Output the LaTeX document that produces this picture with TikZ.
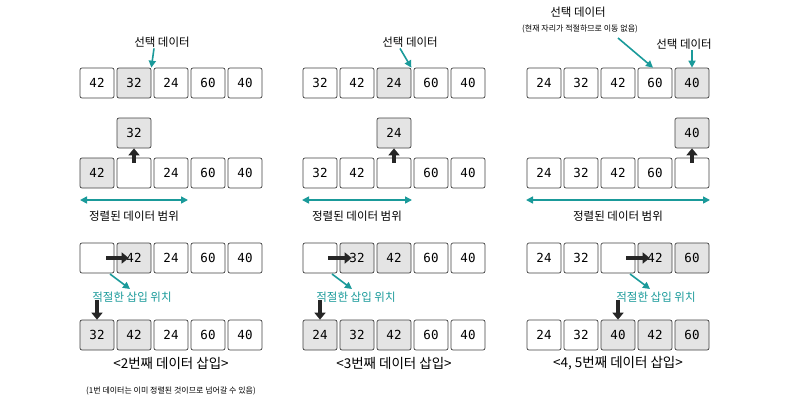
\documentclass[tikz,border=0pt]{standalone}
\usepackage{fontspec}
\setmainfont{Noto Sans CJK KR}
\newfontfamily\nummono{DejaVu Sans Mono}
\usetikzlibrary{arrows.meta}
\definecolor{tealc}{HTML}{1A9A9A}
\definecolor{grayf}{HTML}{E4E4E4}
\tikzset{
 cell/.style={draw=black!75,line width=0.7pt,rounded corners=2pt,minimum width=34pt,minimum height=30pt,inner sep=0pt,font=\nummono\fontsize{12.5}{12}\selectfont},
 sel/.style={cell,fill=grayf},
 lbl/.style={font=\fontsize{11.5}{13}\selectfont,inner sep=1pt},
 captxt/.style={font=\fontsize{13.5}{15}\selectfont,inner sep=1pt},
 small/.style={font=\fontsize{8}{9}\selectfont,inner sep=1pt},
 tlbl/.style={lbl,text=tealc},
 tarr/.style={draw=tealc,line width=1.6pt,-{Triangle[length=7pt,width=7pt]}},
 darr/.style={draw=tealc,line width=1.6pt,{Triangle[length=7pt,width=7pt]}-{Triangle[length=7pt,width=7pt]}},
 barr/.style={draw=black!85,line width=4pt,-{Triangle[length=7pt,width=11pt]}},
}
\newcommand{\rowcells}[4]{%
 \foreach \v/\s [count=\i] in {#4}{%
  \node[\s] (#1\i) at ({#2+(\i-1)*37},#3) {\v};}}
\begin{document}
\begin{tikzpicture}[x=1pt,y=-1pt]
\useasboundingbox (0,0) rectangle (800,410);
% ---------- panel 1
\rowcells{a}{97}{83}{42/cell,32/sel,24/cell,60/cell,40/cell}
\node[lbl] (al) at (162,42) {선택 데이터};
\draw[tarr] ([xshift=-8pt]al.south) -- (a2.north east);
\rowcells{b}{97}{173}{42/sel,/cell,24/cell,60/cell,40/cell}
\node[sel] (bf) at (134,133) {32};
\draw[barr] ([yshift=-5pt]b2.north) -- (bf.south);
\coordinate (bl1) at (80,200); \coordinate (bl2) at (188,200);
\draw[darr] (bl1) -- (bl2);
\node[lbl] (blt) at (134,216) {정렬된 데이터 범위};
\rowcells{c}{97}{258}{/cell,42/sel,24/cell,60/cell,40/cell}
\coordinate (cs) at (106,258);
\draw[barr] (cs) -- ([xshift=12pt]c2.west);
\node[tlbl] (ct) at (132,297) {적절한 삽입 위치};
\coordinate (cts) at (110,274);
\draw[tarr] (cts) -- (130,289);
\rowcells{d}{97}{335}{32/sel,42/sel,24/cell,60/cell,40/cell}
\coordinate (dt) at (97,300);
\draw[barr] (dt) -- (d1.north);
\node[captxt] (dc) at (171,363) {<2번째 데이터 삽입>};
\node[small] (dn) at (171,391) {(1번 데이터는 이미 정렬된 것이므로 넘어갈 수 있음)};
% ---------- panel 2
\rowcells{e}{320}{83}{32/cell,42/cell,24/sel,60/cell,40/cell}
\node[lbl] (el) at (410,42) {선택 데이터};
\draw[tarr] ([xshift=-10pt]el.south) -- (e3.north east);
\rowcells{f}{320}{173}{32/cell,42/cell,/cell,60/cell,40/cell}
\node[sel] (ff) at (394,133) {24};
\draw[barr] ([yshift=-5pt]f3.north) -- (ff.south);
\coordinate (fl1) at (302,200); \coordinate (fl2) at (412,200);
\draw[darr] (fl1) -- (fl2);
\node[lbl] (flt) at (357,216) {정렬된 데이터 범위};
\rowcells{g}{320}{258}{/cell,32/sel,42/sel,60/cell,40/cell}
\coordinate (gs) at (328,258);
\draw[barr] (gs) -- ([xshift=12pt]g2.west);
\node[tlbl] (gt) at (356,297) {적절한 삽입 위치};
\coordinate (gts) at (332,274);
\draw[tarr] (gts) -- (352,289);
\rowcells{h}{320}{335}{24/sel,32/sel,42/sel,60/cell,40/cell}
\coordinate (ht) at (320,300);
\draw[barr] (ht) -- (h1.north);
\node[captxt] (hc) at (394,363) {<3번째 데이터 삽입>};
% ---------- panel 3
\rowcells{i}{544}{83}{24/cell,32/cell,42/cell,60/cell,40/sel}
\node[lbl] (il) at (578,12) {선택 데이터};
\node[small] (in) at (580,29) {(현재 자리가 적절하므로 이동 없음)};
\coordinate (ia) at (618,38);
\draw[tarr] (ia) -- ([xshift=-2pt]i4.north);
\node[lbl] (il2) at (684,44) {선택 데이터};
\draw[tarr] (il2.south -| i5.north) -- (i5.north);
\rowcells{j}{544}{173}{24/cell,32/cell,42/cell,60/cell,/cell}
\node[sel] (jf) at (692,133) {40};
\draw[barr] ([yshift=-5pt]j5.north) -- (jf.south);
\coordinate (jl1) at (526,200); \coordinate (jl2) at (710,200);
\draw[darr] (jl1) -- (jl2);
\node[lbl] (jlt) at (618,216) {정렬된 데이터 범위};
\rowcells{k}{544}{258}{24/cell,32/cell,/cell,42/sel,60/sel}
\coordinate (ks) at (626,258);
\draw[barr] (ks) -- ([xshift=12pt]k4.west);
\node[tlbl] (kt) at (656,297) {적절한 삽입 위치};
\coordinate (kts) at (630,274);
\draw[tarr] (kts) -- (650,289);
\rowcells{l}{544}{335}{24/cell,32/cell,40/sel,42/sel,60/sel}
\coordinate (lt) at (618,300);
\draw[barr] (lt) -- (l3.north);
\node[captxt] (lc) at (618,363) {<4, 5번째 데이터 삽입>};
\end{tikzpicture}
\end{document}
